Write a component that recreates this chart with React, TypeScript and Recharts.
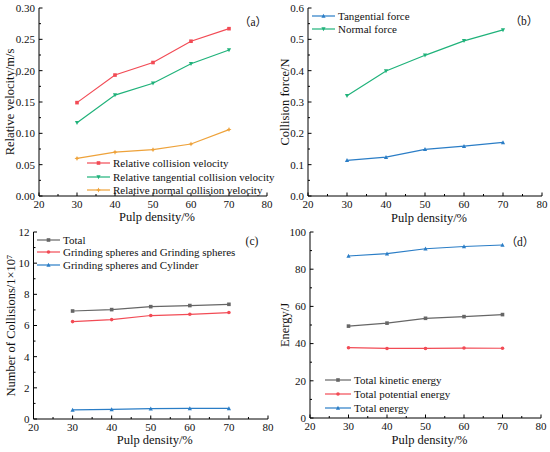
import React from "react";
import { LineChart, Line, XAxis, YAxis, Legend, Customized } from "recharts";

// shared x values
const density = [30, 40, 50, 60, 70];
const xTicks = [20, 25, 30, 35, 40, 45, 50, 55, 60, 65, 70, 75, 80];

// (a) relative velocity, m/s
const relCollision = [0.149, 0.193, 0.213, 0.247, 0.267];
const relTangential = [0.117, 0.161, 0.18, 0.211, 0.233];
const relNormal = [0.06, 0.07, 0.074, 0.083, 0.106];
const velocityTicks = [0, 0.025, 0.05, 0.075, 0.1, 0.125, 0.15, 0.175, 0.2, 0.225, 0.25, 0.275, 0.3];

// (b) collision force, N
const tangentialForce = [0.114, 0.124, 0.149, 0.159, 0.171];
const normalForce = [0.32, 0.399, 0.449, 0.495, 0.53];
const forceTicks = [0, 0.05, 0.1, 0.15, 0.2, 0.25, 0.3, 0.35, 0.4, 0.45, 0.5, 0.55, 0.6];

// (c) number of collisions, 1e7
const totalCollisions = [6.93, 7.02, 7.21, 7.28, 7.36];
const sphereSphere = [6.25, 6.38, 6.64, 6.72, 6.83];
const sphereCylinder = [0.58, 0.62, 0.66, 0.68, 0.68];
const collisionTicks = [0, 1, 2, 3, 4, 5, 6, 7, 8, 9, 10, 11, 12];

// (d) energy, J
const kineticEnergy = [49.4, 51.0, 53.6, 54.5, 55.6];
const potentialEnergy = [37.8, 37.4, 37.4, 37.6, 37.5];
const totalEnergy = [87.1, 88.4, 91.0, 92.2, 93.0];
const energyTicks = [0, 10, 20, 30, 40, 50, 60, 70, 80, 90, 100];

const SERIF = "'Liberation Serif', 'Times New Roman', serif";
const TAG_FONT = "'Liberation Serif', 'Noto Sans CJK SC', serif";
const W = 275;
const H = 226;

const RED = "#f24b55";
const GREEN = "#1fb27a";
const ORANGE = "#eea23a";
const BLUE = "#2a7dc6";
const GRAY = "#666666";

type Shape = "square" | "circle" | "up" | "down" | "star";

type Series = {
  key: string;
  name: string;
  color: string;
  shape: Shape;
  values: number[];
};

function Marker({ cx, cy, shape, color }: { cx: number; cy: number; shape: Shape; color: string }) {
  const s = 1.8;
  if (shape === "square")
    return <rect x={cx - s} y={cy - s} width={s * 2} height={s * 2} fill={color} />;
  if (shape === "circle") return <circle cx={cx} cy={cy} r={s} fill={color} />;
  if (shape === "up")
    return <polygon points={`${cx},${cy - s - 0.4} ${cx - s - 0.3},${cy + s} ${cx + s + 0.3},${cy + s}`} fill={color} />;
  if (shape === "down")
    return <polygon points={`${cx},${cy + s + 0.4} ${cx - s - 0.3},${cy - s} ${cx + s + 0.3},${cy - s}`} fill={color} />;
  // small star
  return (
    <polygon
      points={`${cx},${cy - 2.5} ${cx + 0.8},${cy - 0.8} ${cx + 2.5},${cy} ${cx + 0.8},${cy + 0.8} ${cx},${cy + 2.5} ${cx - 0.8},${cy + 0.8} ${cx - 2.5},${cy} ${cx - 0.8},${cy - 0.8}`}
      fill={color}
    />
  );
}

const XTick = (props: any) => {
  const { x, y, payload } = props;
  const major = payload.value % 10 === 0;
  return (
    <g>
      <line x1={x} x2={x} y1={y} y2={y - (major ? 3.5 : 2)} stroke="#000" strokeWidth={1} />
      {major && (
        <text x={x} y={y + 12} textAnchor="middle" fontSize={11} fontFamily={SERIF} fill="#111">
          {payload.value}
        </text>
      )}
    </g>
  );
};

function makeYTick(step: number, digits: number) {
  return (props: any) => {
    const { x, y, payload } = props;
    const v = payload.value as number;
    const major = Math.abs(v / step - Math.round(v / step)) < 1e-6;
    return (
      <g>
        <line x1={x} x2={x + (major ? 3.5 : 2)} y1={y} y2={y} stroke="#000" strokeWidth={1} />
        {major && (
          <text x={x - 4} y={y} dy="0.35em" textAnchor="end" fontSize={11} fontFamily={SERIF} fill="#111">
            {v.toFixed(digits)}
          </text>
        )}
      </g>
    );
  };
}

type PanelProps = {
  px: number;
  py: number;
  plot: { left: number; right: number; top: number; bottom: number };
  yLabel: string;
  yTicks: number[];
  yStep: number;
  digits: number;
  series: Series[];
  legend: { left: number; top: number; line: number; row: number };
  tag: { text: string; x: number; y: number };
  xLabelBaseline: number;
  yLabelX: number;
};

function Panel(p: PanelProps) {
  const rows = density.map((d, i) => {
    const r: Record<string, number> = { x: d };
    p.series.forEach((s) => (r[s.key] = s.values[i]));
    return r;
  });
  const yMax = p.yTicks[p.yTicks.length - 1];

  const legendContent = () => (
    <div style={{ fontFamily: SERIF, fontSize: 11, color: "#111" }}>
      {p.series.map((s) => (
        <div key={s.key} style={{ display: "flex", alignItems: "center", height: p.legend.row, whiteSpace: "nowrap" }}>
          <svg width={p.legend.line} height={10} style={{ display: "block" }}>
            <line x1={0} x2={p.legend.line} y1={5} y2={5} stroke={s.color} strokeWidth={1.2} />
            <Marker cx={p.legend.line / 2} cy={5} shape={s.shape} color={s.color} />
          </svg>
          <span style={{ marginLeft: 3 }}>{s.name}</span>
        </div>
      ))}
    </div>
  );

  const Tag = () => (
    <text x={p.tag.x} y={p.tag.y} textAnchor="middle" fontSize={11.5} fontFamily={TAG_FONT} fill="#111">
      {p.tag.text}
    </text>
  );

  return (
    <div style={{ position: "absolute", left: p.px, top: p.py, width: W, height: H }}>
      <LineChart
        width={W}
        height={H}
        data={rows}
        margin={{ top: p.plot.top, right: W - p.plot.right, left: 0, bottom: 0 }}
      >
        <XAxis
          dataKey="x"
          type="number"
          domain={[20, 80]}
          ticks={xTicks}
          interval={0}
          tickSize={0}
          tickMargin={0}
          tick={XTick}
          height={H - p.plot.bottom}
          axisLine={{ stroke: "#000", strokeWidth: 1 }}
          label={{
            value: "Pulp density/%",
            position: "insideBottom",
            offset: H - p.xLabelBaseline,
            dx: 4,
            style: { fontFamily: SERIF, fontSize: 12.5, fill: "#111" },
          }}
        />
        <YAxis
          type="number"
          domain={[0, yMax]}
          ticks={p.yTicks}
          interval={0}
          tickSize={0}
          tickMargin={0}
          tick={makeYTick(p.yStep, p.digits)}
          width={p.plot.left}
          axisLine={{ stroke: "#000", strokeWidth: 1 }}
          label={{
            value: p.yLabel,
            angle: -90,
            position: "insideLeft",
            offset: p.yLabelX,
            style: { textAnchor: "middle", fontFamily: SERIF, fontSize: 12.5, fill: "#111" },
          }}
        />
        <XAxis
          xAxisId="top"
          orientation="top"
          type="number"
          domain={[20, 80]}
          height={0}
          tick={false}
          tickLine={false}
          axisLine={{ stroke: "#000", strokeWidth: 1 }}
        />
        <YAxis
          yAxisId="right"
          orientation="right"
          type="number"
          domain={[0, yMax]}
          width={0}
          tick={false}
          tickLine={false}
          axisLine={{ stroke: "#000", strokeWidth: 1 }}
        />
        <Legend
          layout="vertical"
          align="center"
          verticalAlign="middle"
          content={legendContent}
          wrapperStyle={{ left: p.legend.left, top: p.legend.top, width: "auto" }}
        />
        {p.series.map((s) => (
          <Line
            key={s.key}
            dataKey={s.key}
            name={s.name}
            stroke={s.color}
            strokeWidth={1.2}
            isAnimationActive={false}
            activeDot={false}
            dot={(d: any) => (
              <Marker key={`${s.key}-${d.index}`} cx={d.cx} cy={d.cy} shape={s.shape} color={s.color} />
            )}
          />
        ))}
        <Customized component={Tag} />
      </LineChart>
    </div>
  );
}

export default function App() {
  return (
    <div style={{ position: "absolute", left: 0, top: 0, width: 550, height: 452, background: "#fff" }}>
      <Panel
        px={0}
        py={0}
        plot={{ left: 39, right: 267, top: 8, bottom: 196 }}
        yLabel="Relative velocity/m/s"
        yTicks={velocityTicks}
        yStep={0.05}
        digits={2}
        series={[
          { key: "rc", name: "Relative collision velocity", color: RED, shape: "square", values: relCollision },
          { key: "rt", name: "Relative tangential collision velocity", color: GREEN, shape: "down", values: relTangential },
          { key: "rn", name: "Relative normal collision velocity", color: ORANGE, shape: "star", values: relNormal },
        ]}
        legend={{ left: 87, top: 156.5, line: 23, row: 13.5 }}
        tag={{ text: "（a）", x: 253, y: 26 }}
        xLabelBaseline={221}
        yLabelX={10}
      />
      <Panel
        px={275}
        py={0}
        plot={{ left: 33, right: 267, top: 8, bottom: 196 }}
        yLabel="Collision force/N"
        yTicks={forceTicks}
        yStep={0.1}
        digits={1}
        series={[
          { key: "tf", name: "Tangential force", color: BLUE, shape: "up", values: tangentialForce },
          { key: "nf", name: "Normal force", color: GREEN, shape: "down", values: normalForce },
        ]}
        legend={{ left: 37, top: 9.5, line: 23, row: 13 }}
        tag={{ text: "（b）", x: 249, y: 25 }}
        xLabelBaseline={222}
        yLabelX={10}
      />
      <Panel
        px={0}
        py={226}
        plot={{ left: 33.5, right: 268, top: 6, bottom: 193 }}
        yLabel="Number of Collisions/1×10⁷"
        yTicks={collisionTicks}
        yStep={2}
        digits={0}
        series={[
          { key: "tc", name: "Total", color: GRAY, shape: "square", values: totalCollisions },
          { key: "ss", name: "Grinding spheres and Grinding spheres", color: RED, shape: "circle", values: sphereSphere },
          { key: "sc", name: "Grinding spheres and Cylinder", color: BLUE, shape: "up", values: sphereCylinder },
        ]}
        legend={{ left: 37, top: 7.5, line: 23, row: 12.5 }}
        tag={{ text: "(c)", x: 252, y: 19 }}
        xLabelBaseline={218}
        yLabelX={11}
      />
      <Panel
        px={275}
        py={226}
        plot={{ left: 35, right: 266, top: 6, bottom: 192 }}
        yLabel="Energy/J"
        yTicks={energyTicks}
        yStep={20}
        digits={0}
        series={[
          { key: "ke", name: "Total kinetic energy", color: GRAY, shape: "square", values: kineticEnergy },
          { key: "pe", name: "Total potential energy", color: RED, shape: "circle", values: potentialEnergy },
          { key: "te", name: "Total energy", color: BLUE, shape: "up", values: totalEnergy },
        ]}
        legend={{ left: 50, top: 147, line: 26, row: 14 }}
        tag={{ text: "（d）", x: 245, y: 20 }}
        xLabelBaseline={218}
        yLabelX={10}
      />
    </div>
  );
}
